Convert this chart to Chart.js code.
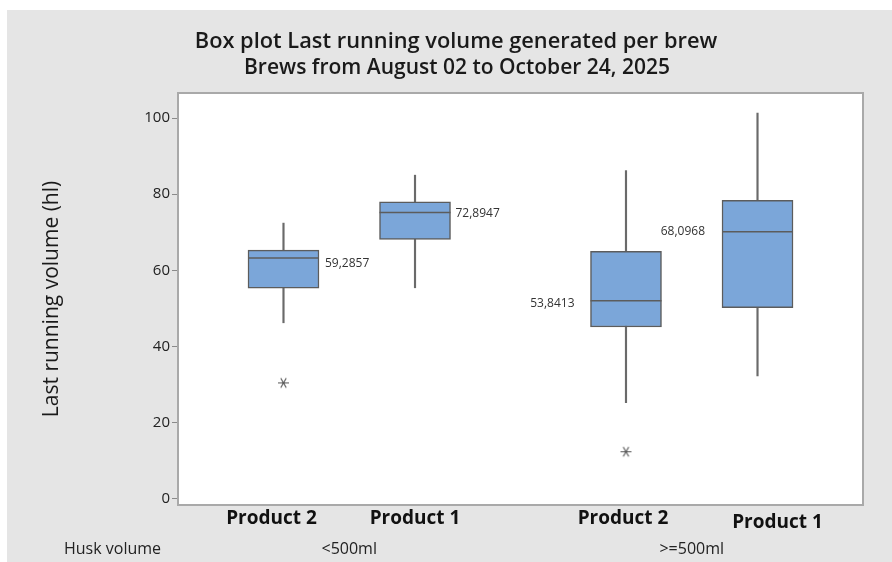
<!DOCTYPE html>
<html>
<head>
<meta charset="utf-8">
<title>Box plot Last running volume generated per brew</title>
<script src="https://cdn.jsdelivr.net/npm/chart.js@4/dist/chart.umd.min.js"></script>
<style>
  html, body { margin: 0; padding: 0; background: #ffffff; }
  #wrap { width: 892px; height: 562px; }
</style>
</head>
<body>
<div id="wrap"><canvas id="chart" width="892" height="562"></canvas></div>
<script>
// ---- data ----
const categories   = ['Product 2', 'Product 1', 'Product 2', 'Product 1'];
const huskGroups   = ['<500ml', '>=500ml'];
const groupOf      = [0, 0, 1, 1];
const whiskerLow   = [46.2, 55.4, 25.2, 32.2];
const q1           = [55.3, 68.1, 45.1, 50.2];
const median       = [63.2, 75.2, 52.0, 70.1];
const q3           = [65.3, 78.0, 65.0, 78.4];
const whiskerHigh  = [72.4, 85.0, 86.2, 101.3];
const means        = [59.2857, 72.8947, 53.8413, 68.0968];
const outliers     = [[30.4], [], [12.3], []];
const yTicks       = [0, 20, 40, 60, 80, 100];

// ---- layout helpers ----
// each husk group spans 5 units on the x scale, two boxes per group
const slotInGroup = categories.map((_, i) => groupOf.slice(0, i).filter(g => g === groupOf[i]).length);
const xPos = categories.map((_, i) => 2.5 + 5 * groupOf[i] + (slotInGroup[i] - 0.5) * 1.92);
const groupCenter = huskGroups.map((_, g) => 2.5 + 5 * g);

const BOX_FILL = '#7ba6d9';
const EDGE = '#5c5c5c';
const FONT = '"Open Sans", "Noto Sans", sans-serif';

// mean label placement: right of the box in the first group, left in the second
const meanLabelStyle = [
  { side: 'right', gap: 6,  dy: 5 },
  { side: 'right', gap: 5,  dy: 1 },
  { side: 'left',  gap: 16, dy: 3 },
  { side: 'left',  gap: 17, dy: 0 }
];
// category label nudges (px)
const catLabelStyle = [
  { dx: -12, dy: 0 },
  { dx: 0,   dy: 0 },
  { dx: -3,  dy: 0 },
  { dx: 20,  dy: 4 }
];

// six-armed asterisk for outliers
function asteriskSymbol(size, color) {
  const c = document.createElement('canvas');
  c.width = size; c.height = size;
  const g = c.getContext('2d');
  const r = size / 2 - 1, m = size / 2;
  g.strokeStyle = color; g.lineWidth = 1.1;
  g.beginPath();
  for (let k = 0; k < 3; k++) {
    const a = k * Math.PI / 3;
    g.moveTo(m - r * Math.cos(a), m - r * Math.sin(a));
    g.lineTo(m + r * Math.cos(a), m + r * Math.sin(a));
  }
  g.stroke();
  return c;
}

const decor = {
  id: 'boxDecor',
  beforeDraw(chart) {
    const { ctx, width, height, chartArea: a } = chart;
    ctx.save();
    ctx.fillStyle = '#ffffff';
    ctx.fillRect(0, 0, width, height);
    ctx.fillStyle = '#e5e5e5';
    ctx.fillRect(7, 10, width - 7, height - 10);
    ctx.fillStyle = '#ffffff';
    ctx.fillRect(a.left, a.top, a.right - a.left, a.bottom - a.top);
    ctx.restore();
  },
  afterDatasetsDraw(chart) {
    const { ctx, scales: { x, y } } = chart;
    const half = 71 / 2;
    ctx.save();
    // median lines
    ctx.strokeStyle = EDGE; ctx.lineWidth = 1.5;
    median.forEach((m, i) => {
      const cx = x.getPixelForValue(xPos[i]);
      const py = y.getPixelForValue(m);
      ctx.beginPath();
      ctx.moveTo(cx - half, py);
      ctx.lineTo(cx + half, py);
      ctx.stroke();
    });
    // mean labels, anchored at the median level
    ctx.fillStyle = '#333333';
    ctx.font = '12px ' + FONT;
    ctx.textBaseline = 'middle';
    means.forEach((v, i) => {
      const s = meanLabelStyle[i];
      const cx = x.getPixelForValue(xPos[i]);
      const py = y.getPixelForValue(median[i]) + s.dy;
      const txt = v.toFixed(4).replace('.', ',');
      if (s.side === 'right') {
        ctx.textAlign = 'left';
        ctx.fillText(txt, cx + half + s.gap, py);
      } else {
        ctx.textAlign = 'right';
        ctx.fillText(txt, cx - half - s.gap, py);
      }
    });
    ctx.restore();
  },
  afterDraw(chart) {
    const { ctx, chartArea: a, scales: { x } } = chart;
    ctx.save();
    // plot frame
    ctx.strokeStyle = '#a9a9a9'; ctx.lineWidth = 2;
    ctx.strokeRect(a.left, a.top, a.right - a.left, a.bottom - a.top);
    // titles
    ctx.fillStyle = '#1a1a1a';
    ctx.textAlign = 'center'; ctx.textBaseline = 'middle';
    ctx.font = '600 21.8px ' + FONT;
    ctx.fillText('Box plot Last running volume generated per brew', 456, 42);
    ctx.font = '600 21px ' + FONT;
    ctx.fillText('Brews from August 02 to October 24, 2025', 457, 68);
    // category labels
    ctx.font = 'bold 19px ' + FONT;
    ctx.fillStyle = '#111111';
    categories.forEach((c, i) => {
      const s = catLabelStyle[i];
      ctx.fillText(c, x.getPixelForValue(xPos[i]) + s.dx, 519 + s.dy);
    });
    // group row
    ctx.font = '16px ' + FONT;
    ctx.fillStyle = '#222222';
    ctx.textAlign = 'left';
    ctx.fillText('Husk volume', 64, 549);
    ctx.textAlign = 'center';
    huskGroups.forEach((g, k) => ctx.fillText(g, x.getPixelForValue(groupCenter[k]), 549));
    ctx.restore();
  }
};

new Chart(document.getElementById('chart'), {
  type: 'bar',
  data: {
    datasets: [
      {
        label: 'whiskers',
        data: xPos.map((p, i) => ({ x: p, y: [whiskerLow[i], whiskerHigh[i]] })),
        backgroundColor: '#6a6a6a',
        barThickness: 1.5,
        grouped: false,
        order: 3
      },
      {
        label: 'boxes',
        data: xPos.map((p, i) => ({ x: p, y: [q1[i], q3[i]] })),
        backgroundColor: BOX_FILL,
        borderColor: EDGE,
        borderWidth: 1.5,
        borderSkipped: false,
        barThickness: 71,
        grouped: false,
        order: 2
      },
      {
        type: 'scatter',
        label: 'outliers',
        data: outliers.flatMap((vals, i) => vals.map(v => ({ x: xPos[i], y: v }))),
        pointStyle: asteriskSymbol(13, '#555555'),
        order: 1
      }
    ]
  },
  options: {
    responsive: false,
    animation: false,
    devicePixelRatio: 1,
    layout: { padding: { left: 0, right: 29, top: 93, bottom: 57 } },
    plugins: { legend: { display: false }, tooltip: { enabled: false } },
    scales: {
      x: {
        type: 'linear', min: 0, max: 10, offset: false, display: false
      },
      y: {
        min: -1.7, max: 106.6,
        afterFit(scale) { scale.width = 178; },
        afterBuildTicks(scale) { scale.ticks = yTicks.map(v => ({ value: v })); },
        ticks: { includeBounds: false, color: '#222222', padding: 2, font: { family: FONT, size: 15 } },
        grid: { drawOnChartArea: false, tickLength: 6, color: '#8a8a8a' },
        border: { display: false },
        title: {
          display: true,
          text: 'Last running volume (hl)',
          color: '#1a1a1a',
          font: { family: FONT, size: 21 },
          padding: { top: 39, bottom: 0 }
        }
      }
    }
  },
  plugins: [decor]
});
</script>
</body>
</html>
